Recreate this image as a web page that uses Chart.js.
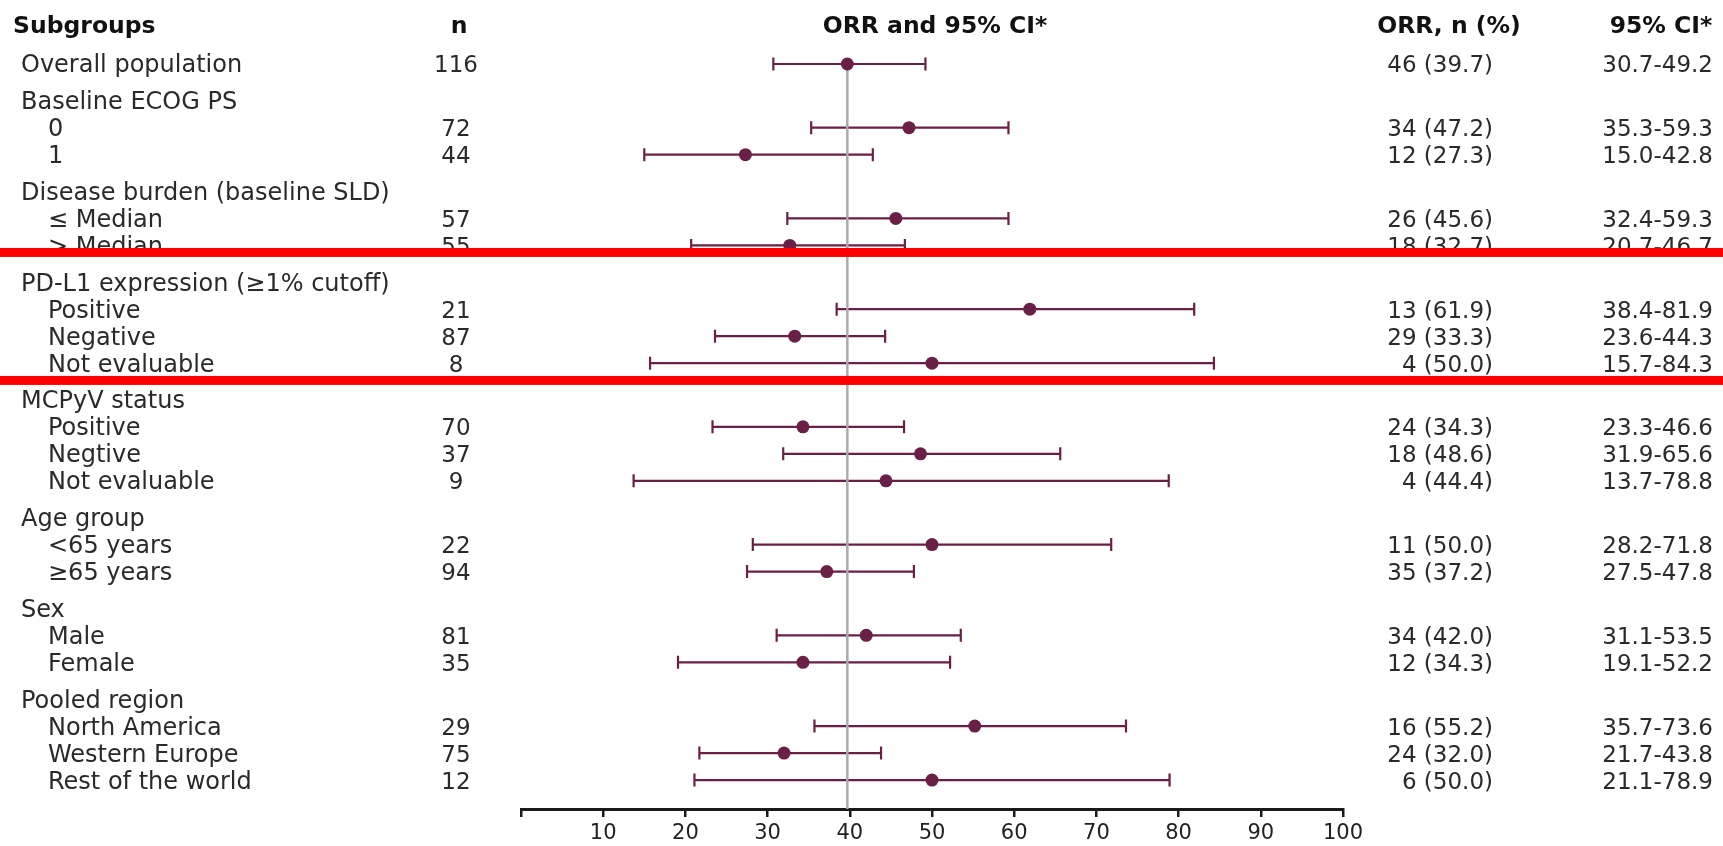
<!DOCTYPE html>
<html>
<head>
<meta charset="utf-8">
<script src="https://cdn.jsdelivr.net/npm/chart.js@4/dist/chart.umd.min.js"></script>
<style>
  html, body { margin: 0; padding: 0; background: #ffffff; }
  #wrap { width: 1723px; height: 846px; position: relative; }
  canvas { display: block; }
</style>
</head>
<body>
<div id="wrap"><canvas id="c" width="1723" height="846"></canvas></div>
<script>
// ---------- DATA ----------
const rowLabels = [
  'Overall population',
  'Baseline ECOG PS', '0', '1',
  'Disease burden (baseline SLD)', '\u2264 Median', '> Median',
  'PD-L1 expression (\u22651% cutoff)', 'Positive', 'Negative', 'Not evaluable',
  'MCPyV status', 'Positive', 'Negtive', 'Not evaluable',
  'Age group', '<65 years', '\u226565 years',
  'Sex', 'Male', 'Female',
  'Pooled region', 'North America', 'Western Europe', 'Rest of the world'
];
const rowLevel   = [0, 0,1,1, 0,1,1, 0,1,1,1, 0,1,1,1, 0,1,1, 0,1,1, 0,1,1,1];
const rowN       = [116, null,72,44, null,57,55, null,21,87,8, null,70,37,9, null,22,94, null,81,35, null,29,75,12];
const responders = [46, null,34,12, null,26,18, null,13,29,4, null,24,18,4, null,11,35, null,34,12, null,16,24,6];
const orrPct     = [39.7, null,47.2,27.3, null,45.6,32.7, null,61.9,33.3,50.0, null,34.3,48.6,44.4, null,50.0,37.2, null,42.0,34.3, null,55.2,32.0,50.0];
const ciLow      = [30.7, null,35.3,15.0, null,32.4,20.7, null,38.4,23.6,15.7, null,23.3,31.9,13.7, null,28.2,27.5, null,31.1,19.1, null,35.7,21.7,21.1];
const ciHigh     = [49.2, null,59.3,42.8, null,59.3,46.7, null,81.9,44.3,84.3, null,46.6,65.6,78.8, null,71.8,47.8, null,53.5,52.2, null,73.6,43.8,78.9];
const xTicks     = [0,10,20,30,40,50,60,70,80,90,100];
const columnTitles = ['Subgroups', 'n', 'ORR and 95% CI*', 'ORR, n (%)', '95% CI*'];

// ---------- LAYOUT HELPERS ----------
const GROUP_GAP = 0.36;
const rowPos = [];
(function(){
  let k = 0;
  for (let i = 0; i < rowLabels.length; i++) {
    if (i > 0 && rowN[i] === null) k++;
    rowPos.push(i + GROUP_GAP * k);
  }
})();

const points = [];
for (let i = 0; i < rowLabels.length; i++) {
  if (orrPct[i] !== null) points.push({ x: orrPct[i], y: rowPos[i], row: i });
}

const MAROON = '#6a2046';
const TEXT = '#2a2a2a';
const LABEL_FONT = '24px "DejaVu Sans"';
const NUM_FONT = '23px "DejaVu Sans"';
const HEAD_FONT = 'bold 23.5px "DejaVu Sans"';

const whiskerPlugin = {
  id: 'whiskers',
  beforeDatasetsDraw(chart) {
    const { ctx, scales: { x, y }, chartArea } = chart;
    ctx.save();
    ctx.strokeStyle = MAROON;
    ctx.lineWidth = 2.2;
    for (let i = 0; i < rowLabels.length; i++) {
      if (ciLow[i] === null) continue;
      const py = y.getPixelForValue(rowPos[i]);
      const x1 = x.getPixelForValue(ciLow[i]);
      const x2 = x.getPixelForValue(ciHigh[i]);
      ctx.beginPath();
      ctx.moveTo(x1, py); ctx.lineTo(x2, py);
      ctx.moveTo(x1, py - 6.5); ctx.lineTo(x1, py + 6.5);
      ctx.moveTo(x2, py - 6.5); ctx.lineTo(x2, py + 6.5);
      ctx.stroke();
    }
    // reference line at overall ORR
    const rx = x.getPixelForValue(orrPct[0]);
    ctx.strokeStyle = '#ababab';
    ctx.lineWidth = 2.5;
    ctx.beginPath();
    ctx.moveTo(rx, y.getPixelForValue(rowPos[0]));
    ctx.lineTo(rx, chartArea.bottom);
    ctx.stroke();
    ctx.restore();
  }
};

const tablePlugin = {
  id: 'table',
  afterDraw(chart) {
    const { ctx, scales: { y } } = chart;
    ctx.save();
    // column titles
    ctx.fillStyle = '#111';
    ctx.font = HEAD_FONT;
    ctx.textBaseline = 'alphabetic';
    ctx.textAlign = 'left';
    ctx.fillText(columnTitles[0], 13, 33);
    ctx.textAlign = 'center';
    ctx.fillText(columnTitles[1], 459, 33);
    ctx.fillText(columnTitles[2], 935, 33);
    ctx.fillText(columnTitles[3], 1449, 33);
    ctx.fillText(columnTitles[4], 1661, 33);
    // rows
    ctx.fillStyle = TEXT;
    for (let i = 0; i < rowLabels.length; i++) {
      const base = y.getPixelForValue(rowPos[i]) + 8.5;
      ctx.font = LABEL_FONT;
      ctx.textAlign = 'left';
      ctx.fillText(rowLabels[i], rowLevel[i] ? 48 : 21, base);
      if (rowN[i] !== null) {
        ctx.font = NUM_FONT;
        ctx.textAlign = 'center';
        ctx.fillText(String(rowN[i]), 456, base);
        ctx.textAlign = 'right';
        ctx.fillText(responders[i] + ' (' + orrPct[i].toFixed(1) + ')', 1493, base);
        ctx.fillText(ciLow[i].toFixed(1) + '-' + ciHigh[i].toFixed(1), 1713, base);
      }
    }
    // red separator annotations
    ctx.fillStyle = '#ff0000';
    const sep = [6.98, 11.72];
    sep.forEach(v => {
      const py = y.getPixelForValue(v);
      ctx.fillRect(0, py - 4.5, chart.width, 9);
    });
    ctx.restore();
  }
};

new Chart(document.getElementById('c'), {
  type: 'scatter',
  data: {
    datasets: [{
      data: points,
      pointRadius: 6.5,
      pointHoverRadius: 6.5,
      pointBackgroundColor: MAROON,
      pointBorderColor: MAROON,
      pointBorderWidth: 0,
      showLine: false
    }]
  },
  options: {
    responsive: false,
    devicePixelRatio: 1,
    animation: false,
    events: [],
    layout: { padding: { left: 521, right: 380, top: 23.5, bottom: 0 } },
    plugins: { legend: { display: false }, tooltip: { enabled: false } },
    scales: {
      x: {
        type: 'linear',
        min: xTicks[0],
        max: xTicks[xTicks.length - 1],
        afterBuildTicks: (s) => { s.ticks = xTicks.map(v => ({ value: v })); },
        afterFit: (s) => { s.height = 37; },
        ticks: {
          callback: (v) => (v === 0 ? '' : v),
          font: { family: 'DejaVu Sans', size: 21 },
          color: '#222',
          padding: 4,
          maxRotation: 0,
          autoSkip: false
        },
        grid: {
          drawOnChartArea: false,
          drawTicks: true,
          tickLength: 8,
          color: '#1a1a1a',
          lineWidth: 2.5
        },
        border: { display: true, color: '#1a1a1a', width: 3 }
      },
      y: {
        type: 'linear',
        reverse: true,
        min: -1.5,
        max: 27.593,
        display: false
      }
    }
  },
  plugins: [whiskerPlugin, tablePlugin]
});
</script>
</body>
</html>
